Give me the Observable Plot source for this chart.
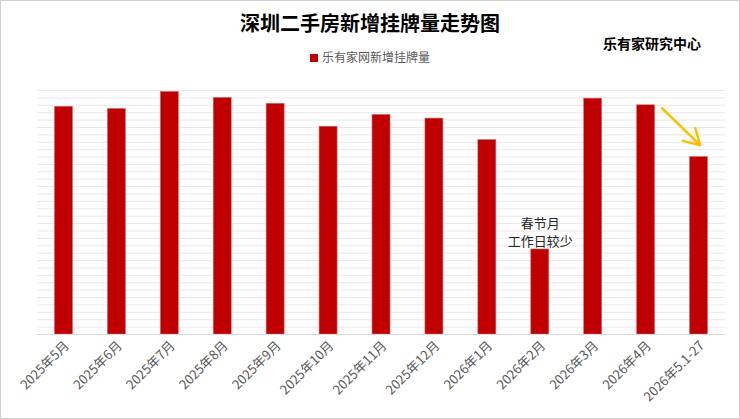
<!DOCTYPE html>
<html>
<head>
<meta charset="utf-8">
<script src="https://cdn.jsdelivr.net/npm/d3@7"></script>
<script src="https://cdn.jsdelivr.net/npm/@observablehq/plot@0.6"></script>
<style>
  html, body { margin: 0; padding: 0; background: #fff; }
  #wrap { position: relative; width: 740px; height: 419px; overflow: hidden; font-family: "Noto Sans CJK SC", "Noto Sans", sans-serif; background: #fff; }
  #border { position: absolute; left: 0; top: 0; width: 738px; height: 417px; border: 1px solid #d0d0d0; pointer-events: none; }
  #title { position: absolute; left: 0; width: 740px; top: 9px; text-align: center; font-size: 20px; font-weight: bold; color: #000; line-height: 28px; }
  #source { position: absolute; left: 603px; top: 33px; font-size: 14px; font-weight: bold; color: #000; line-height: 20px; }
  #legend { position: absolute; left: 0; width: 740px; top: 48px; text-align: center; font-size: 12px; color: #595959; line-height: 18px; }
  #legend .sw { display: inline-block; width: 8px; height: 8px; background: #C00000; margin-right: 4px; vertical-align: 0px; }
  #chart { position: absolute; left: 0; top: 80px; }
  #chart svg { display: block; }
</style>
</head>
<body>
<div id="wrap">
  <div id="title">深圳二手房新增挂牌量走势图</div>
  <div id="source">乐有家研究中心</div>
  <div id="legend"><span class="sw"></span>乐有家网新增挂牌量</div>
  <div id="chart"></div>
  <div id="border"></div>
</div>
<script>
const months = ["2025年5月","2025年6月","2025年7月","2025年8月","2025年9月","2025年10月","2025年11月","2025年12月","2026年1月","2026年2月","2026年3月","2026年4月","2026年5.1-27"];
const listings = [30800, 30500, 32800, 32000, 31200, 28100, 29700, 29200, 26300, 11500, 31900, 31000, 24000];
const gridTicks = d3.range(0, 33001, 1000);
const noteMonth = "2026年2月";
const noteText = "春节月\n工作日较少";
const arrowFrom = ["2026年4月", 30600];
const arrowTo = ["2026年5.1-27", 25600];

const data = months.map((m, i) => ({month: m, value: listings[i]}));
const noteData = [{month: noteMonth, value: listings[months.indexOf(noteMonth)], text: noteText}];
const arrowData = [{m1: arrowFrom[0], v1: arrowFrom[1], m2: arrowTo[0], v2: arrowTo[1]}];

const W = 740, H = 339, mL = 37, mR = 15;
const step = (W - mL - mR) / months.length;

const chart = Plot.plot({
  width: W,
  height: H,
  marginTop: 10,
  marginBottom: 85,
  marginLeft: mL,
  marginRight: mR,
  style: {fontFamily: '"Noto Sans CJK SC", "Noto Sans", sans-serif', background: "transparent"},
  x: {domain: months, paddingInner: 0.66, paddingOuter: 0.33, round: false, label: null, tickSize: 0, tickRotate: -45, tickPadding: 8},
  y: {domain: [0, 33000], axis: null},
  marks: [
    Plot.gridY(gridTicks, {stroke: "#e9e9e9", strokeOpacity: 1, strokeWidth: 1}),
    Plot.barY(data, {x: "month", y: "value", fill: "#C00000", stroke: "#d86a6a", strokeWidth: 0.6}),
    Plot.ruleY([0], {stroke: "#d9d9d9", strokeWidth: 1}),
    Plot.axisX({tickSize: 0, tickRotate: -45, tickPadding: 9, dx: 3, fontSize: 13, fill: "#595959", label: null}),
    Plot.text(noteData, {x: "month", y: "value", text: "text", lineAnchor: "bottom", dy: -3, fontSize: 13, lineHeight: 1.4, fill: "#262626"}),
    Plot.arrow(arrowData, {
      x1: "m1", y1: "v1", x2: "m2", y2: "v2",
      stroke: "#FFC000", strokeWidth: 2.5, headLength: 12,
      render(index, scales, values, dimensions, context, next) {
        return next(index, scales, {
          ...values,
          x1: values.x1.map(v => v + 0.3 * step),
          x2: values.x2.map(v => v + 0.02 * step)
        }, dimensions, context);
      }
    })
  ]
});
document.getElementById("chart").appendChild(chart);
</script>
</body>
</html>
